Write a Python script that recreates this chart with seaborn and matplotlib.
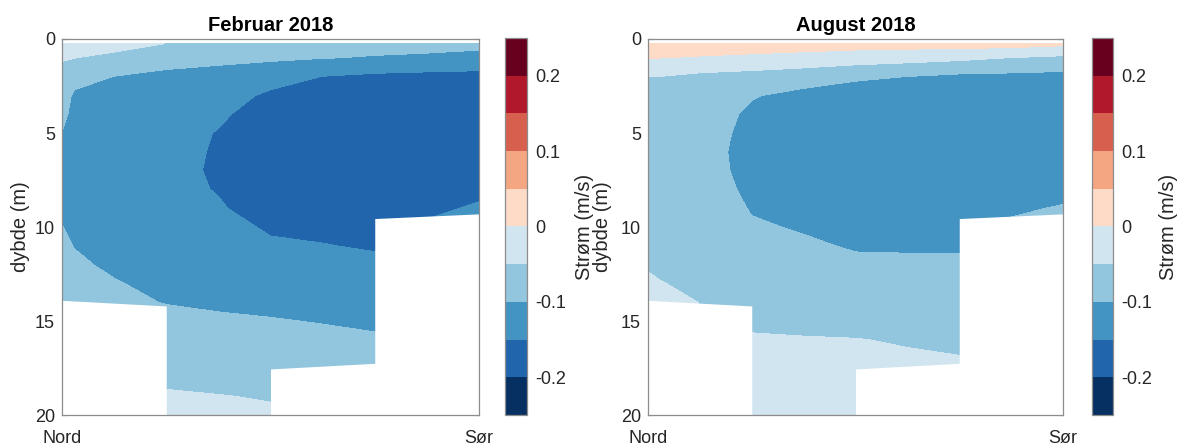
import numpy as np
import matplotlib
matplotlib.use("Agg")
import matplotlib.pyplot as plt
from matplotlib.colors import ListedColormap, BoundaryNorm
from matplotlib.cm import ScalarMappable
import seaborn as sns

# Strømsnitt Nord -> Sør, to tokt
stasjon_x = [0.0, 0.03, 0.125, 0.25, 0.375, 0.5, 0.625, 0.75, 0.875, 1.0]
dybde = [0.25, 1, 2, 3, 4, 5, 6, 7, 8, 9, 10, 11, 12, 13, 14, 15, 16, 17, 18, 19, 20]

# strøm (m/s), en profil per stasjon (verdier i rekkefølge etter dybde)
feb_strom = [
    [-0.035, -0.0475, -0.061, -0.074, -0.087, -0.101, -0.109, -0.117, -0.116, -0.108, -0.099,
     -0.095, -0.090, -0.085, -0.080, -0.078, -0.076, -0.074, -0.072, -0.070, -0.070],
    [-0.040, -0.0495, -0.079, -0.109, -0.115, -0.121, -0.128, -0.135, -0.126, -0.118, -0.109,
     -0.101, -0.095, -0.090, -0.085, -0.083, -0.080, -0.078, -0.075, -0.073, -0.070],
    [-0.033, -0.0615, -0.101, -0.109, -0.118, -0.127, -0.136, -0.145, -0.137, -0.129, -0.121,
     -0.113, -0.1055, -0.098, -0.093, -0.089, -0.085, -0.081, -0.078, -0.074, -0.070],
    [-0.0505, -0.090, -0.106, -0.115, -0.127, -0.138, -0.144, -0.145, -0.142, -0.136, -0.129,
     -0.122, -0.115, -0.108, -0.1013, -0.0907, -0.079, -0.0674, -0.0558, -0.0467, -0.040],
    [-0.060, -0.092, -0.112, -0.1254, -0.145, -0.1515, -0.1518, -0.1522, -0.1515, -0.1475, -0.1383,
     -0.130, -0.1217, -0.1133, -0.105, -0.0953, -0.0835, -0.0718, -0.060, -0.049, -0.042],
    [-0.070, -0.0937, -0.1267, -0.160, -0.165, -0.170, -0.176, -0.1763, -0.169, -0.1617, -0.1544,
     -0.1452, -0.1333, -0.1214, -0.1095, -0.0977, -0.0864, -0.075, -0.0636, -0.0523, -0.045],
    [-0.080, -0.0984, -0.151, -0.1607, -0.1705, -0.1802, -0.190, -0.1818, -0.1737, -0.1655, -0.1573,
     -0.1488, -0.1371, -0.1253, -0.1135, -0.1018, -0.0912, -0.081, -0.0706, -0.0603, -0.050],
    [-0.085, -0.1031, -0.160, -0.1632, -0.1738, -0.1844, -0.195, -0.1867, -0.1783, -0.170, -0.1617,
     -0.1533, -0.1427, -0.1305, -0.1183, -0.1061, -0.0956, -0.0867, -0.0778, -0.0689, -0.060],
    [-0.090, -0.105, -0.165, -0.1658, -0.1775, -0.1892, -0.1894, -0.1781, -0.1669, -0.1556, -0.146,
     -0.138, -0.130, -0.125, -0.120, -0.115, -0.110, -0.105, -0.100, -0.095, -0.090],
    [-0.095, -0.106, -0.170, -0.1685, -0.1818, -0.195, -0.1821, -0.1693, -0.1564, -0.1467, -0.140,
     -0.135, -0.130, -0.125, -0.120, -0.115, -0.110, -0.105, -0.100, -0.095, -0.090],
]

aug_strom = [
    [0.015, 0.0011, -0.051, -0.0588, -0.0675, -0.0763, -0.085, -0.0795, -0.0741, -0.0686, -0.0631,
     -0.0577, -0.0522, -0.0463, -0.040, -0.038, -0.037, -0.035, -0.033, -0.032, -0.030],
    [0.013, 0.0005, -0.0505, -0.0596, -0.0687, -0.0779, -0.087, -0.0816, -0.0762, -0.0708, -0.0654,
     -0.060, -0.0546, -0.0492, -0.044, -0.040, -0.038, -0.036, -0.034, -0.032, -0.030],
    [0.020, -0.003, -0.062, -0.066, -0.076, -0.081, -0.0838, -0.082, -0.078, -0.0713, -0.0671,
     -0.063, -0.0588, -0.0546, -0.0504, -0.0477, -0.045, -0.0425, -0.040, -0.0375, -0.035],
    [0.020, -0.008, -0.070, -0.097, -0.108, -0.112, -0.114, -0.113, -0.109, -0.103, -0.0955,
     -0.0871, -0.0787, -0.0702, -0.0618, -0.0534, -0.048, -0.0448, -0.0415, -0.0383, -0.035],
    [0.020, -0.015, -0.080, -0.112, -0.117, -0.122, -0.1262, -0.1262, -0.1186, -0.111, -0.1034,
     -0.0947, -0.085, -0.0752, -0.0655, -0.0558, -0.0486, -0.0452, -0.0418, -0.0384, -0.035],
    [0.020, -0.025, -0.092, -0.125, -0.1275, -0.130, -0.1353, -0.1359, -0.1278, -0.1196, -0.1114,
     -0.1033, -0.0932, -0.0818, -0.0705, -0.0591, -0.0492, -0.0457, -0.0421, -0.0386, -0.035],
    [0.020, -0.0316, -0.1005, -0.1104, -0.1203, -0.1302, -0.1401, -0.1404, -0.1313, -0.1222, -0.1131,
     -0.1039, -0.094, -0.0836, -0.0731, -0.0626, -0.0521, -0.047, -0.044, -0.041, -0.038],
    [0.020, -0.0395, -0.110, -0.1131, -0.1237, -0.1344, -0.145, -0.1367, -0.1284, -0.1202, -0.112,
     -0.1037, -0.0947, -0.0849, -0.0752, -0.0655, -0.0558, -0.0488, -0.0459, -0.0429, -0.040],
    [0.020, -0.0509, -0.112, -0.1132, -0.124, -0.1347, -0.1349, -0.1246, -0.1144, -0.1041, -0.0954,
     -0.0877, -0.080, -0.075, -0.070, -0.065, -0.060, -0.055, -0.050, -0.045, -0.040],
    [0.010, -0.0603, -0.115, -0.1152, -0.1276, -0.140, -0.1294, -0.1187, -0.1081, -0.098, -0.090,
     -0.085, -0.080, -0.075, -0.070, -0.065, -0.060, -0.055, -0.050, -0.045, -0.040],
]

# bunn (m) langs snittet
bunn_x = [0.0, 0.25, 0.25, 0.5, 0.5, 0.75, 0.75, 1.0]
bunn_z = [13.9, 14.2, 20.0, 20.0, 17.55, 17.25, 9.55, 9.3]

nivaaer = [-0.25, -0.2, -0.15, -0.1, -0.05, 0.0, 0.05, 0.1, 0.15, 0.2, 0.25]
cbar_ticks = [-0.2, -0.1, 0, 0.1, 0.2]
titler = ["Februar 2018", "August 2018"]
x_etiketter = ["Nord", "Sør"]

farger = ["#053061", "#2166ac", "#4393c3", "#92c5de", "#d1e5f0",
          "#fddbc7", "#f4a582", "#d6604d", "#b2182b", "#67001f"]

sns.set_theme(style="white")
plt.rcParams["font.family"] = ["Liberation Sans", "DejaVu Sans"]

fig = plt.figure(figsize=(11.82, 4.45), dpi=100)
W, H = 1182, 445

# panel-plassering i piksler: (venstre, topp, bredde, høyde)
paneler = [(62, 39, 417, 376), (648, 39, 415, 376)]
cbars = [(505, 38, 22, 377), (1092, 38, 21, 377)]

cmap = ListedColormap(farger)
norm = BoundaryNorm(nivaaer, cmap.N)
X, Z = np.meshgrid(stasjon_x, dybde)
tekst = "#262626"

for i, data in enumerate([feb_strom, aug_strom]):
    l, t, w, h = paneler[i]
    ax = fig.add_axes([l / W, 1 - (t + h) / H, w / W, h / H])
    ax.set_facecolor("white")
    U = np.array(data).T
    ax.contourf(X, Z, U, levels=nivaaer, colors=farger)
    ax.fill_between(bunn_x, bunn_z, 20, color="white", lw=0)
    ax.set_xlim(0, 1)
    ax.set_ylim(20, 0)
    ax.set_yticks([0, 5, 10, 15, 20])
    ax.set_xticks([0, 1])
    ax.set_xticklabels(x_etiketter)
    ax.tick_params(axis="both", direction="in", labelsize=13, colors=tekst,
                   length=4, width=0.8, right=True, left=True, bottom=False)
    ax.tick_params(axis="y", pad=5, color="#555555")
    ax.tick_params(axis="x", pad=11)
    for s in ax.spines.values():
        s.set_color("#8c8c8c")
        s.set_linewidth(0.9)
    ax.set_title(titler[i], fontsize=14.5, fontweight="bold", color="black", pad=6)
    ax.set_ylabel("dybde (m)", fontsize=14.5, color=tekst)
    ax.yaxis.set_label_coords(-0.077 if i == 0 else -0.087, 0.5)

    cl, ct, cw, ch = cbars[i]
    cax = fig.add_axes([cl / W, 1 - (ct + ch) / H, cw / W, ch / H])
    cb = fig.colorbar(ScalarMappable(norm=norm, cmap=cmap), cax=cax, ticks=cbar_ticks)
    cb.ax.minorticks_off()
    cb.ax.set_yticklabels(["-0.2", "-0.1", "0", "0.1", "0.2"])
    cb.ax.tick_params(which="both", direction="in", length=2, width=0.6,
                      labelsize=13, labelcolor=tekst, color="#555555", pad=6)
    cb.outline.set_edgecolor("#8c8c8c")
    cb.outline.set_linewidth(0.9)
    cb.set_label("Strøm (m/s)", fontsize=14.5, color=tekst)
    cb.ax.yaxis.set_label_coords(3.2, 0.5)

fig.savefig("out.png", dpi=100)
